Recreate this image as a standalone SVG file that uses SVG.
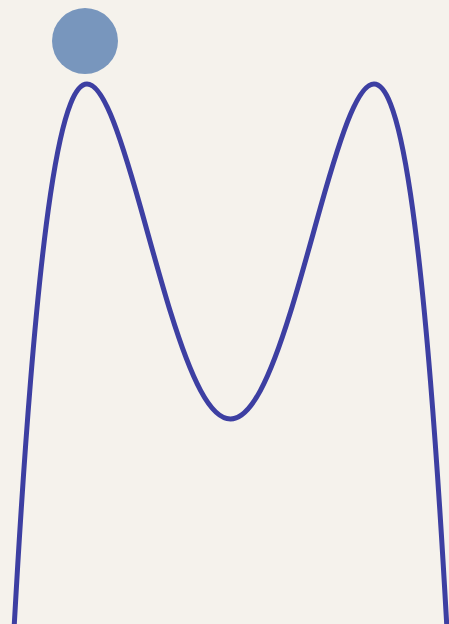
<svg xmlns="http://www.w3.org/2000/svg" width="449" height="624" viewBox="0 0 449 624">
<style>
.curve{fill:none;stroke:#3d3fa2;stroke-width:5;stroke-linecap:round;stroke-linejoin:round}
.ball{fill:#7896bd}
</style>
<rect x="0" y="0" width="449" height="624" fill="#f5f2ec"/>
<g id="connectors">
<path class="curve" d="M14,629.6 C19.5,530.7 25,449.1 30.5,381.6 C37.17,299.8 43.83,238.9 50.5,194.1 C57.17,149.3 63.83,120.7 70.5,103.8 C76,89.9 81.5,84 87,84 C94.83,84 102.67,95.9 110.5,114.3 C120.5,137.8 130.5,171.8 140.5,207.3 C150.5,242.8 160.5,279.9 170.5,312.1 C180.5,344.3 190.5,371.7 200.5,390.4 C210.5,409.1 220.5,419 230.5,419 C240.5,419 250.5,409.1 260.5,390.4 C270.5,371.7 280.5,344.3 290.5,312.1 C300.5,279.9 310.5,242.8 320.5,207.3 C330.5,171.8 340.5,137.8 350.5,114.3 C358.33,95.9 366.17,84 374,84 C379.5,84 385,89.9 390.5,103.8 C397.17,120.7 403.83,149.3 410.5,194.1 C417.17,238.9 423.83,299.8 430.5,381.6 C436,449.1 441.5,530.7 447,629.6"/>
</g>
<g id="ball">
<circle class="ball" cx="85" cy="41" r="33"/>
</g>
</svg>
